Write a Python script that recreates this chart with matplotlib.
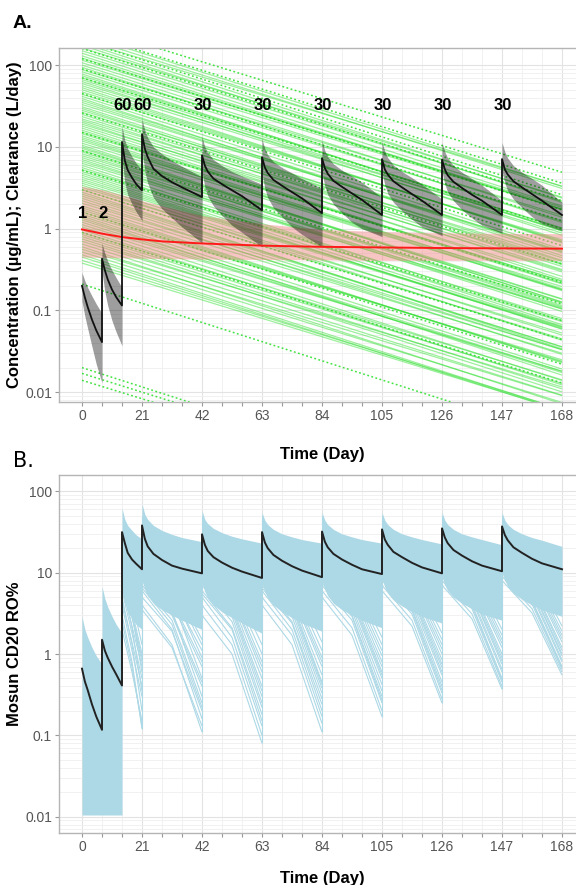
import numpy as np
import matplotlib
matplotlib.use("Agg")
import matplotlib.pyplot as plt
from matplotlib.collections import LineCollection
from matplotlib.patches import Rectangle
from matplotlib.ticker import FixedLocator, FixedFormatter, LogLocator, NullFormatter

plt.rcParams['font.family'] = ['Liberation Sans', 'DejaVu Sans']

# ---------------- data ----------------
# shared time grid (dose days repeated: trough then peak)
t_grid = [0, 1, 2, 3.5, 5, 7,
          7, 8, 9, 10.5, 12, 14,
          14, 15, 16, 17.5, 19, 21,
          21, 22, 23, 25, 28, 31.5, 35, 42,
          42, 43, 44, 46, 49, 52.5, 56, 63,
          63, 64, 65, 67, 70, 73.5, 77, 84,
          84, 85, 86, 88, 91, 94.5, 98, 105,
          105, 106, 107, 109, 112, 115.5, 119, 126,
          126, 127, 128, 130, 133, 136.5, 140, 147,
          147, 148, 149, 151, 154, 157.5, 161, 168]

# panel A: median concentration and prediction interval
conc_med = [0.20, 0.145, 0.11, 0.077, 0.057, 0.041,
            0.43, 0.31, 0.24, 0.18, 0.145, 0.115,
            11.5, 6.8, 5.2, 4.2, 3.5, 2.95,
            14.3, 9.5, 7.5, 5.4, 4.4, 3.7, 3.2, 2.44,
            7.9, 5.9, 5.0, 4.1, 3.5, 2.95, 2.5, 1.68,
            7.5, 5.6, 4.8, 3.95, 3.35, 2.8, 2.35, 1.55,
            7.3, 5.5, 4.7, 3.85, 3.25, 2.7, 2.25, 1.47,
            7.1, 5.3, 4.6, 3.8, 3.2, 2.65, 2.2, 1.47,
            7.0, 5.3, 4.5, 3.75, 3.15, 2.6, 2.2, 1.47,
            7.1, 5.3, 4.6, 3.8, 3.2, 2.65, 2.2, 1.47]
conc_hi = [0.29, 0.23, 0.19, 0.15, 0.12, 0.092,
           0.66, 0.50, 0.40, 0.31, 0.25, 0.19,
           17.8, 12.0, 9.5, 7.6, 6.3, 5.2,
           21.7, 16.0, 13.0, 10.0, 8.2, 6.8, 5.8, 4.3,
           13.2, 10.0, 8.5, 7.0, 5.9, 5.0, 4.4, 3.5,
           12.5, 9.5, 8.0, 6.6, 5.6, 4.8, 4.1, 3.1,
           11.8, 9.0, 7.6, 6.2, 5.2, 4.4, 3.7, 2.4,
           11.5, 8.8, 7.4, 6.0, 5.0, 4.2, 3.5, 2.3,
           11.3, 8.7, 7.3, 5.9, 4.9, 4.1, 3.4, 2.2,
           11.3, 8.7, 7.3, 5.9, 4.9, 4.1, 3.4, 2.1]
conc_lo = [0.13, 0.085, 0.06, 0.036, 0.022, 0.013,
           0.30, 0.17, 0.115, 0.075, 0.054, 0.037,
           7.5, 3.6, 2.6, 2.0, 1.6, 1.26,
           9.5, 5.0, 3.6, 2.4, 1.75, 1.35, 1.05, 0.67,
           5.0, 3.2, 2.5, 1.9, 1.45, 1.1, 0.9, 0.6,
           4.8, 3.1, 2.4, 1.8, 1.4, 1.05, 0.85, 0.6,
           4.9, 3.3, 2.6, 2.0, 1.55, 1.2, 1.0, 0.8,
           4.9, 3.4, 2.7, 2.1, 1.65, 1.3, 1.05, 0.82,
           5.0, 3.5, 2.8, 2.2, 1.7, 1.35, 1.1, 0.88,
           5.1, 3.6, 2.9, 2.3, 1.8, 1.4, 1.15, 0.95]

# clearance (red line + band)
cl_days = [0, 7, 14, 21, 28, 42, 63, 84, 105, 126, 147, 168]
cl_med = [0.98, 0.87, 0.79, 0.74, 0.70, 0.66, 0.62, 0.60, 0.59, 0.58, 0.575, 0.57]
cl_hi = [3.3, 3.0, 2.6, 2.2, 1.9, 1.45, 1.15, 0.98, 0.92, 0.89, 0.88, 0.87]
cl_lo = [0.45, 0.445, 0.44, 0.435, 0.43, 0.425, 0.42, 0.415, 0.41, 0.41, 0.41, 0.41]

# green individual lines: value at day 0 and day 168
green_solid_d0 = [0.38, 0.45, 0.52, 0.60, 0.70, 0.80, 0.90, 1.05, 1.2, 1.35, 1.5, 1.7,
                  1.9, 2.2, 2.5, 2.8, 3.2, 3.6, 4.0, 4.5, 5.0, 5.6, 6.3, 7.0, 7.8,
                  8.7, 9.6, 10.5, 11.8, 13, 14.5, 16, 18, 20, 22, 25, 28, 31, 35,
                  39, 44, 50, 56, 63, 70, 78, 88, 100, 115, 130, 150, 175, 200, 240,
                  0.41, 0.48, 0.56, 0.65, 0.75, 0.85, 0.97, 1.12, 1.28, 1.42, 1.6,
                  1.8, 2.05, 2.35, 2.65, 3.0, 3.4, 3.8, 4.25, 4.75, 5.3, 5.95, 6.65,
                  7.4, 8.25, 9.1, 10, 11.1, 12.4, 13.7, 15.2, 17, 19, 21, 23.5, 26.5,
                  29.5, 33, 37, 41.5, 47, 53, 59.5, 66.5, 74, 83, 94, 107, 122, 140,
                  162, 187, 220]
green_solid_d168 = [0.0060, 0.0059, 0.0075, 0.0072, 0.0116, 0.011, 0.0142, 0.0139,
                    0.0174, 0.0162, 0.0249, 0.0235, 0.030, 0.029, 0.036, 0.034,
                    0.053, 0.050, 0.063, 0.059, 0.073, 0.067, 0.105, 0.097, 0.123,
                    0.115, 0.139, 0.126, 0.196, 0.179, 0.229, 0.211, 0.261, 0.24,
                    0.365, 0.345, 0.442, 0.409, 0.508, 0.468, 0.73, 0.69, 0.885,
                    0.83, 1.02, 0.94, 1.46, 1.38, 1.82, 1.72, 2.18, 2.1, 3.3, 3.3,
                    0.0062, 0.0061, 0.0091, 0.0092, 0.0101, 0.0128, 0.0123, 0.0181,
                    0.0180, 0.0192, 0.024, 0.0229, 0.0332, 0.0331, 0.0358, 0.045,
                    0.0432, 0.0616, 0.0599, 0.0641, 0.0795, 0.0756, 0.108, 0.104,
                    0.111, 0.137, 0.127, 0.18, 0.175, 0.185, 0.228, 0.216, 0.308,
                    0.296, 0.317, 0.398, 0.375, 0.535, 0.522, 0.56, 0.705, 0.673,
                    0.964, 0.938, 0.999, 1.245, 1.194, 1.733, 1.72, 1.89, 2.43, 2.37,
                    3.1]
green_dot_d0 = [0.014, 0.017, 0.020, 0.21, 0.9, 1.6, 3.0, 5.2, 9, 15, 26, 45,
                70, 90, 120, 160, 200, 250, 310]
green_dot_d168 = [0.00022, 0.00025, 0.00026, 0.0028, 0.013, 0.022, 0.044, 0.075,
                  0.12, 0.22, 0.37, 0.62, 1.0, 1.25, 1.7, 2.2, 2.6, 3.6, 4.9]

dose_days = [0, 7, 14, 21, 42, 63, 84, 105, 126, 147]
dose_labels = ['1', '2', '60', '60', '30', '30', '30', '30', '30', '30']

# panel B: receptor occupancy
ro_med = [0.66, 0.46, 0.36, 0.24, 0.17, 0.117,
          1.5, 1.1, 0.9, 0.7, 0.56, 0.41,
          31.5, 23, 17.5, 14.5, 12.8, 11.0,
          38, 26, 21, 17, 14.3, 12.2, 11.2, 9.8,
          29.6, 22, 18.5, 15.5, 13.3, 11.5, 10.3, 8.6,
          31.5, 23.5, 20, 16.5, 14, 12, 10.6, 8.8,
          32, 24, 20.5, 17, 14.5, 12.5, 11, 9.6,
          34, 25.5, 22, 18, 15.5, 13.2, 11.6, 9.8,
          35, 27, 23, 19, 16.2, 13.8, 12.2, 10.4,
          37, 29, 25, 20.5, 17.5, 14.8, 13, 11.0]
ro_top = [2.9, 2.0, 1.6, 1.2, 0.95, 0.75,
          6.8, 4.8, 3.8, 2.9, 2.3, 1.8,
          62, 45, 38, 33, 29, 26,
          70, 52, 45, 38, 33, 29.5, 27, 24,
          58, 45, 40, 35, 31, 28, 26, 23,
          55, 44, 39, 34, 30, 27.5, 25.5, 23,
          55, 44, 39, 34, 30, 27.5, 25.5, 23,
          55, 44, 39, 34, 30, 27.5, 25.5, 22.5,
          55, 44, 39, 34, 30, 27.5, 25.5, 22,
          55, 44, 39, 34, 30, 27, 25, 21]
ro_core_low = [0.0105, 0.0105, 0.0105, 0.0105, 0.0105, 0.0105,
               0.0105, 0.0105, 0.0105, 0.0105, 0.0105, 0.0105,
               6, 4.2, 3.3, 2.7, 2.3, 2.0,
               8, 6.2, 5.2, 4.2, 3.5, 3.0, 2.6, 2.0,
               7.5, 5.8, 4.9, 4.0, 3.3, 2.8, 2.4, 1.8,
               7.5, 5.8, 4.9, 4.0, 3.3, 2.8, 2.4, 1.9,
               8, 6.2, 5.2, 4.2, 3.5, 3.0, 2.6, 2.1,
               8.5, 6.6, 5.6, 4.6, 3.9, 3.3, 2.9, 2.4,
               9, 7, 6, 5, 4.2, 3.6, 3.1, 2.6,
               10, 8, 6.8, 5.6, 4.7, 4.0, 3.5, 2.9]

# sparse low individual RO profiles per dosing interval (peak, mid-interval, trough)
ro_int_start = [14, 21, 42, 63, 84, 105, 126, 147]
ro_int_end = [21, 42, 63, 84, 105, 126, 147, 168]
ro_peaks = [[3, 5, 8, 12, 2, 6, 10, 4, 15, 7, 2.5, 9, 4.5, 11],
            [4, 6, 9, 12, 5, 8, 15, 20, 7, 10, 3.5, 13, 11, 6.5, 17, 8.5],
            [3, 5, 7, 10, 14, 4, 6, 9, 12, 18, 8, 11, 16, 5.5, 9.5, 13],
            [4, 6, 8, 11, 15, 5, 7, 10, 13, 19, 9, 12, 17, 6.5, 10.5, 14],
            [5, 7, 9, 12, 16, 6, 8, 11, 14, 20, 10, 13, 18, 7.5, 11.5, 15],
            [6, 8, 10, 13, 17, 7, 9, 12, 15, 21, 11, 14, 19, 8.5, 12.5, 16],
            [7, 9, 11, 14, 18, 8, 10, 13, 16, 22, 12, 15, 20, 9.5, 13.5, 17],
            [8, 10, 12, 15, 19, 9, 11, 14, 17, 23, 13, 16, 21, 10.5, 14.5, 18]]
ro_mids = [[0.8, 1.3, 2.1, 3.2, 0.6, 1.8, 3.0, 1.1, 4.5, 2.2, 0.7, 2.8, 1.4, 3.4],
           [1.3, 2.0, 3.4, 4.8, 1.9, 3.0, 6.0, 8.0, 2.6, 4.2, 1.2, 5.5, 4.5, 2.3, 7.0, 3.2],
           [1.0, 1.6, 2.5, 3.9, 6.0, 1.3, 2.1, 3.3, 5.0, 8.0, 2.9, 4.3, 6.8, 2.0, 3.6, 5.2],
           [1.3, 2.0, 2.9, 4.3, 6.5, 1.7, 2.5, 3.7, 5.4, 8.5, 3.3, 4.7, 7.3, 2.4, 4.0, 5.7],
           [1.7, 2.6, 3.4, 5.0, 7.2, 2.1, 3.0, 4.3, 5.9, 9.0, 3.8, 5.2, 8.0, 2.9, 4.6, 6.4],
           [2.2, 3.1, 4.0, 5.6, 8.0, 2.6, 3.6, 5.0, 6.7, 9.8, 4.4, 5.9, 8.7, 3.4, 5.2, 7.1],
           [2.7, 3.6, 4.6, 6.3, 8.7, 3.1, 4.1, 5.6, 7.4, 10.6, 5.0, 6.6, 9.4, 3.9, 5.8, 7.8],
           [3.2, 4.1, 5.2, 7.0, 9.4, 3.6, 4.6, 6.2, 8.1, 11.4, 5.6, 7.3, 10.1, 4.4, 6.4, 8.5]]
ro_troughs = [[0.12, 0.2, 0.35, 0.6, 0.15, 0.5, 0.9, 0.3, 1.3, 0.7, 0.13, 0.8, 0.4, 1.0],
              [0.11, 0.16, 0.3, 0.5, 0.2, 0.4, 0.9, 1.5, 0.25, 0.7, 0.13, 1.1, 0.8, 0.22, 1.3, 0.45],
              [0.08, 0.13, 0.22, 0.4, 0.8, 0.1, 0.18, 0.3, 0.6, 1.3, 0.25, 0.5, 1.0, 0.15, 0.35, 0.7],
              [0.11, 0.17, 0.28, 0.45, 0.9, 0.14, 0.24, 0.38, 0.7, 1.4, 0.33, 0.55, 1.1, 0.2, 0.42, 0.8],
              [0.17, 0.25, 0.35, 0.6, 1.1, 0.2, 0.3, 0.5, 0.8, 1.6, 0.42, 0.7, 1.3, 0.27, 0.55, 0.95],
              [0.25, 0.33, 0.45, 0.75, 1.3, 0.28, 0.4, 0.6, 1.0, 1.8, 0.55, 0.85, 1.5, 0.36, 0.68, 1.15],
              [0.37, 0.45, 0.6, 0.9, 1.5, 0.4, 0.5, 0.75, 1.2, 2.0, 0.65, 1.0, 1.7, 0.48, 0.82, 1.35],
              [0.55, 0.65, 0.8, 1.1, 1.7, 0.6, 0.7, 0.95, 1.4, 2.2, 0.85, 1.2, 1.9, 0.68, 1.0, 1.55]]

x_ticks = [0, 21, 42, 63, 84, 105, 126, 147, 168]
y_ticks = [0.01, 0.1, 1, 10, 100]
y_ticklabels = ['0.01', '0.1', '1', '10', '100']


def style_axes(ax, ylim, xlabelpad):
    ax.set_yscale('log')
    ax.set_xlim(-8.05, 176.4)
    ax.set_ylim(*ylim)
    ax.xaxis.set_major_locator(FixedLocator(x_ticks))
    ax.xaxis.set_minor_locator(FixedLocator(np.arange(0, 169, 7)))
    ax.yaxis.set_major_locator(FixedLocator(y_ticks))
    ax.yaxis.set_major_formatter(FixedFormatter(y_ticklabels))
    ax.yaxis.set_minor_locator(LogLocator(base=10, subs=np.arange(2, 10)))
    ax.yaxis.set_minor_formatter(NullFormatter())
    ax.grid(True, which='major', color='#e3e3e3', lw=0.8, zorder=0)
    ax.grid(True, which='minor', color='#efefef', lw=0.6, zorder=0)
    ax.set_axisbelow(True)
    for s in ax.spines.values():
        s.set_color('#b5b5b5')
        s.set_linewidth(1.0)
    ax.tick_params(axis='both', which='major', labelsize=10, labelcolor='#555555',
                   color='#999999', length=3, width=0.8, pad=2)
    ax.tick_params(axis='x', which='minor', color='#999999', length=3, width=0.8)
    ax.tick_params(axis='y', which='minor', length=0)
    ax.set_xlabel('Time (Day)', fontsize=12, fontweight='bold', labelpad=xlabelpad)


fig = plt.figure(figsize=(5.76, 8.85), dpi=100)
W, H = 576, 885
axA = fig.add_axes([59 / W, 1 - 402 / H, (586 - 59) / W, (402 - 48) / H])
axB = fig.add_axes([59 / W, 1 - 833 / H, (586 - 59) / W, (833 - 475) / H])

# ---------------- panel A ----------------
style_axes(axA, (0.0076, 162), 17)
clipA = Rectangle((0, 0.01), 168, 100 - 0.01, transform=axA.transData)

solid = LineCollection([[(0, a), (168, b)] for a, b in zip(green_solid_d0, green_solid_d168)],
                       colors='#33e033', linewidths=0.9, alpha=0.48, zorder=2)
solid.set_clip_path(clipA)
axA.add_collection(solid)
dotted = LineCollection([[(0, a), (168, b)] for a, b in zip(green_dot_d0, green_dot_d168)],
                        colors='#22dd22', linewidths=1.1, alpha=0.85,
                        linestyles=[(0, (1.2, 1.6))], zorder=2)
dotted.set_clip_path(clipA)
axA.add_collection(dotted)

axA.fill_between(cl_days, cl_lo, cl_hi, color='#f08080', alpha=0.45, lw=0, zorder=3)
axA.fill_between(t_grid, conc_lo, conc_hi, color='black', alpha=0.38, lw=0, zorder=4)
axA.plot(cl_days, cl_med, color='#ff1a1a', lw=1.4, zorder=5)
axA.plot(t_grid, conc_med, color='#111111', lw=1.3, zorder=6)

for d, lab in zip(dose_days, dose_labels):
    yv = 1.55 if d < 14 else 32
    axA.text(d + 0.3, yv, lab, ha='center', va='center', fontsize=12,
             fontweight='bold', color='black', zorder=7)

axA.set_ylabel('Concentration (µg/mL); Clearance (L/day)', fontsize=12,
               fontweight='bold', labelpad=2)

# ---------------- panel B ----------------
style_axes(axB, (10 ** -2.2, 10 ** 2.2), 12)
blue = '#add8e6'
axB.fill_between(t_grid, ro_core_low, ro_top, color=blue, lw=0, zorder=2)
segs = []
for t0, t1, pk, md, tr in zip(ro_int_start, ro_int_end, ro_peaks, ro_mids, ro_troughs):
    for a, m, b in zip(pk, md, tr):
        segs.append([(t0, a), ((t0 + t1) / 2, m), (t1, b)])
axB.add_collection(LineCollection(segs, colors=blue, linewidths=0.8, zorder=2))
axB.vlines(ro_int_end[:-1], [min(tr) for tr in ro_troughs[:-1]], 50,
           colors=blue, lw=0.8, zorder=2)
axB.plot(t_grid, ro_med, color='#222222', lw=1.4, zorder=5)
axB.set_ylabel('Mosun CD20 RO%', fontsize=12, fontweight='bold', labelpad=2)

fig.text(13 / W, 1 - 28 / H, 'A.', fontsize=14, fontweight='bold', ha='left', va='baseline')
fig.text(13 / W, 1 - 467 / H, 'B.', fontsize=15, family='DejaVu Sans', ha='left', va='baseline')

fig.savefig('out.png', dpi=100)
